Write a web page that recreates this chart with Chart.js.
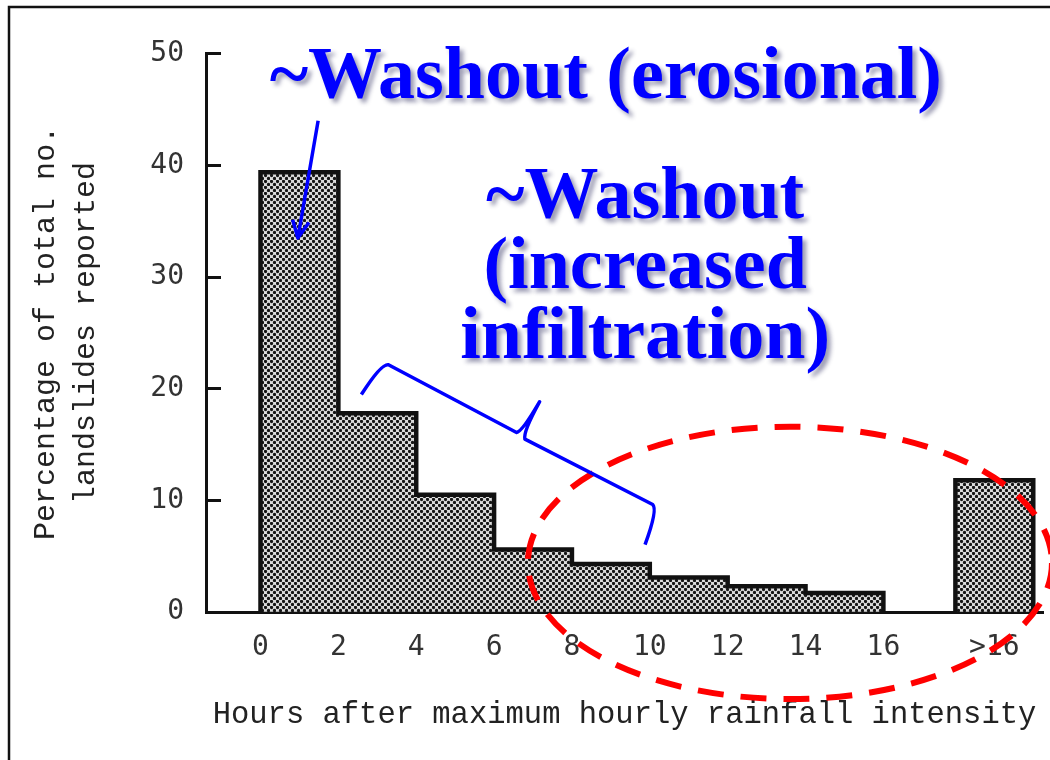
<!DOCTYPE html>
<html>
<head>
<meta charset="utf-8">
<title>Landslides vs hours after max rainfall</title>
<script src="https://cdn.jsdelivr.net/npm/chart.js@4.4.0/dist/chart.umd.min.js"></script>
<style>
  html, body { margin: 0; padding: 0; background: #fff; }
  #wrap { width: 1050px; height: 760px; position: relative; }
</style>
</head>
<body>
<div id="wrap"><canvas id="landslideChart"></canvas></div>
<script>
// Histogram bins: hours after maximum hourly rainfall intensity
const binStart = [0, 2, 4, 6, 8, 10, 12, 14, 17.85];
const binEnd   = [2, 4, 6, 8, 10, 12, 14, 16, 19.85];
// Percentage of total no. of landslides reported in each bin
const percentReported = [39.4, 17.8, 10.5, 5.6, 4.3, 3.1, 2.3, 1.7, 11.8];

// Tick labels
const xEdgeTicks = [0, 2, 4, 6, 8, 10, 12, 14, 16];
const xTickLabels = ['0', '2', '4', '6', '8', '10', '12', '14', '16', '>16'];
const yTickValues = [0, 10, 20, 30, 40, 50];

// Annotation texts
const noteErosional = '~Washout (erosional)';
const noteInfiltration = ['~Washout', '(increased', 'infiltration)'];

const lastBin = binStart.length - 1;
const xTickValues = xEdgeTicks.concat([(binStart[lastBin] + binEnd[lastBin]) / 2]);

// bar centres come from the bin edges
const barPoints = binStart.map((s, i) => ({ x: (s + binEnd[i]) / 2, y: percentReported[i] }));

// stair-step outline of the histogram (no dividers between touching bins)
const outlinePoints = [];
binStart.forEach((s, i) => {
  const touching = i > 0 && s === binEnd[i - 1];
  if (!touching) {
    if (i > 0) {
      outlinePoints.push({ x: binEnd[i - 1], y: 0 });
      outlinePoints.push({ x: (binEnd[i - 1] + s) / 2, y: null });
    }
    outlinePoints.push({ x: s, y: 0 });
  }
  outlinePoints.push({ x: s, y: percentReported[i] });
});
outlinePoints.push({ x: binEnd[lastBin], y: 0 });

// halftone stipple like the scanned figure
function makeStipple() {
  const c = document.createElement('canvas');
  c.width = 6; c.height = 6;
  const g = c.getContext('2d');
  g.fillStyle = '#dcdcdc';
  g.fillRect(0, 0, 6, 6);
  g.fillStyle = '#151515';
  [[1.5, 1.5], [4.5, 4.5]].forEach(p => {
    g.beginPath();
    g.arc(p[0], p[1], 1.65, 0, Math.PI * 2);
    g.fill();
  });
  return g.createPattern(c, 'repeat');
}

function drawBrace(ctx, x1, y1, x2, y2) {
  const len = Math.hypot(x2 - x1, y2 - y1);
  const mid = len / 2;
  ctx.save();
  ctx.translate(x1, y1);
  ctx.rotate(Math.atan2(y2 - y1, x2 - x1));
  ctx.beginPath();
  ctx.moveTo(-4, 39);
  ctx.quadraticCurveTo(-1, 2, 6, 0);
  ctx.lineTo(mid - 4.5, 0);
  ctx.quadraticCurveTo(mid, -3, mid + 1.5, -38);
  ctx.quadraticCurveTo(mid + 1, -3, mid + 6, 2);
  ctx.lineTo(len - 6, 0);
  ctx.quadraticCurveTo(len + 1, 2, len + 6, 39);
  ctx.stroke();
  ctx.restore();
}

function drawArrow(ctx, x1, y1, x2, y2) {
  const ang = Math.atan2(y2 - y1, x2 - x1);
  const head = 19;
  ctx.beginPath();
  ctx.moveTo(x1, y1);
  ctx.lineTo(x2, y2);
  ctx.moveTo(x2 - head * Math.cos(ang - 0.45), y2 - head * Math.sin(ang - 0.45));
  ctx.lineTo(x2, y2);
  ctx.lineTo(x2 - head * Math.cos(ang + 0.45), y2 - head * Math.sin(ang + 0.45));
  ctx.stroke();
}

// slide frame + blue/red annotations, anchored on the chart scales
const annotationPlugin = {
  id: 'slideNotes',
  beforeDraw(chart) {
    const ctx = chart.ctx;
    ctx.save();
    ctx.strokeStyle = '#111';
    ctx.lineWidth = 2.5;
    ctx.beginPath();
    ctx.moveTo(9, chart.height);
    ctx.lineTo(9, 7);
    ctx.lineTo(chart.width, 7);
    ctx.stroke();
    ctx.restore();
  },
  afterDraw(chart) {
    const ctx = chart.ctx;
    const xs = chart.scales.x, ys = chart.scales.y;
    const px = v => xs.getPixelForValue(v);
    const py = v => ys.getPixelForValue(v);

    ctx.save();
    // red dashed ellipse round the tail of the distribution
    const cx = px(13.6), cy = py(4.4);
    ctx.strokeStyle = '#ff0000';
    ctx.lineWidth = 6;
    ctx.setLineDash([26, 17]);
    ctx.beginPath();
    ctx.ellipse(cx, cy, px(20.33) - cx, cy - py(16.6), 0, 0, Math.PI * 2);
    ctx.stroke();
    ctx.setLineDash([]);

    // blue arrow and brace
    ctx.strokeStyle = '#0000ff';
    ctx.lineWidth = 3.5;
    ctx.lineJoin = 'round';
    drawArrow(ctx, px(1.48), py(44.0), px(0.96), py(33.5));
    drawBrace(ctx, px(3.15), py(22.4), px(10.21), py(9.38));

    // blue text with soft drop shadow
    ctx.font = 'bold 74px "Liberation Serif", "Times New Roman", serif';
    ctx.textAlign = 'center';
    ctx.textBaseline = 'alphabetic';
    ctx.fillStyle = '#0000ff';
    ctx.shadowColor = 'rgba(40, 40, 90, 0.45)';
    ctx.shadowOffsetX = 4;
    ctx.shadowOffsetY = 4;
    ctx.shadowBlur = 4;
    ctx.fillText(noteErosional, px(8.87), py(46.0));
    const baseY = py(35.3);
    noteInfiltration.forEach((line, i) => {
      ctx.fillText(line, px(9.88), baseY + i * 70);
    });
    ctx.restore();
  }
};

const monoFont = '"Liberation Mono", "Courier New", monospace';
const tickFont = '"DejaVu Sans Mono", monospace';

const ctx = document.getElementById('landslideChart').getContext('2d');
const landslideChart = new Chart(ctx, {
  type: 'bar',
  data: {
    datasets: [
      {
        type: 'line',
        data: outlinePoints,
        stepped: true,
        borderColor: '#111',
        borderWidth: 4.5,
        borderJoinStyle: 'miter',
        pointRadius: 0,
        fill: false,
        spanGaps: false,
        order: 0
      },
      {
        type: 'bar',
        data: barPoints,
        backgroundColor: makeStipple(),
        borderWidth: 0,
        barPercentage: 1,
        categoryPercentage: 1,
        order: 1
      }
    ]
  },
  options: {
    responsive: true,
    maintainAspectRatio: false,
    animation: false,
    events: [],
    layout: {
      padding: { left: 26, right: 7, top: 47, bottom: 27 }
    },
    plugins: {
      legend: { display: false },
      tooltip: { enabled: false }
    },
    scales: {
      x: {
        type: 'linear',
        min: -1.4,
        max: 20.1,
        offset: false,
        z: 1,
        afterBuildTicks: scale => {
          scale.ticks = xTickValues.map(v => ({ value: v }));
        },
        afterFit: scale => { scale.height = 121; },
        ticks: {
          autoSkip: false,
          maxRotation: 0,
          padding: 28,
          color: '#333',
          font: { family: tickFont, size: 28 },
          callback: (value, index) => xTickLabels[index]
        },
        grid: {
          offset: false,
          drawOnChartArea: false,
          tickLength: -9,
          tickWidth: 3,
          tickColor: c => (c.index < xEdgeTicks.length ? '#111' : 'rgba(0,0,0,0)')
        },
        border: { display: true, width: 3, color: '#111' },
        title: {
          display: true,
          text: 'Hours after maximum hourly rainfall intensity',
          color: '#222',
          padding: 0,
          font: { family: monoFont, size: 30.5, lineHeight: 1.2 }
        }
      },
      y: {
        min: 0,
        max: 50,
        afterBuildTicks: scale => {
          scale.ticks = yTickValues.map(v => ({ value: v }));
        },
        afterFit: scale => { scale.width = 180; },
        ticks: {
          padding: 37,
          color: '#333',
          font: { family: tickFont, size: 28 }
        },
        grid: {
          drawOnChartArea: false,
          tickLength: -15,
          tickWidth: 3,
          tickColor: '#111'
        },
        border: { display: true, width: 3, color: '#111' },
        title: {
          display: true,
          text: ['Percentage of total no.', 'landslides reported'],
          color: '#222',
          padding: 0,
          font: { family: monoFont, size: 30, lineHeight: 1.333 }
        }
      }
    }
  },
  plugins: [annotationPlugin]
});
</script>
</body>
</html>
